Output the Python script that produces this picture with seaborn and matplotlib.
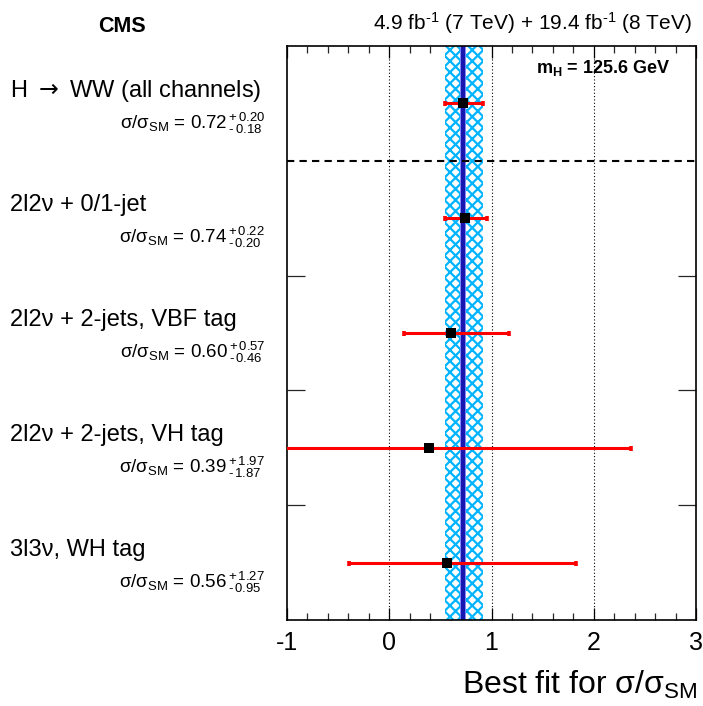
import matplotlib
matplotlib.use("Agg")
import matplotlib.pyplot as plt
import matplotlib.transforms as mtransforms
from matplotlib.ticker import MultipleLocator, FixedLocator
import numpy as np
import seaborn as sns

# ---- data ----
categories = ["H $\\rightarrow$ WW (all channels)", "2l2\u03bd + 0/1-jet",
              "2l2\u03bd + 2-jets, VBF tag", "2l2\u03bd + 2-jets, VH tag",
              "3l3\u03bd, WH tag"]
mu = [0.72, 0.74, 0.60, 0.39, 0.56]
err_up = [0.20, 0.22, 0.57, 1.97, 1.27]
err_dn = [0.18, 0.20, 0.46, 1.87, 0.95]
x_ticks = [-1, 0, 1, 2, 3]

sns.set_theme(style="ticks")
plt.rcParams["font.family"] = ["Liberation Sans", "DejaVu Sans"]
plt.rcParams["mathtext.fontset"] = "custom"
plt.rcParams["mathtext.rm"] = "Liberation Sans"
plt.rcParams["mathtext.it"] = "Liberation Sans:italic"
plt.rcParams["mathtext.bf"] = "Liberation Sans:bold"
plt.rcParams["axes.unicode_minus"] = False
plt.rcParams["hatch.linewidth"] = 1.6

fig = plt.figure(figsize=(7.03, 7.06), dpi=100)
ax = fig.add_axes([0.4083, 0.1218, 0.5818, 0.813])

n = len(categories)
ypos = np.arange(n) + 0.5

# combined band
lo = mu[0] - err_dn[0]
hi = mu[0] + err_up[0]
ax.axvspan(lo, hi, facecolor="white", edgecolor="#00b4ff", hatch="xxx", lw=0, zorder=1)
ax.axvline(mu[0], color="#8a8aff", lw=4.2, zorder=2)
ax.axvline(mu[0], color="#1818b0", lw=3.0, zorder=2.1)

# grid dotted verticals
for xv in [0, 1, 2]:
    ax.axvline(xv, color="black", lw=0.8, ls=(0, (1, 2)), zorder=0.5)

# dashed separator
ax.axhline(1, color="black", lw=1.5, ls=(0, (3.5, 2.5)), zorder=3)

# error bars
ax.errorbar(mu, ypos, xerr=[err_dn, err_up], fmt="none", ecolor="#ff0000",
            elinewidth=2.2, capsize=1.8, capthick=2.6, zorder=4)
sns.scatterplot(x=mu, y=ypos, marker="s", color="black", s=55, linewidth=0,
                ax=ax, zorder=5)

ax.set_xlim(-1, 3)
ax.set_ylim(n, 0)
ax.xaxis.set_major_locator(FixedLocator(x_ticks))
ax.xaxis.set_minor_locator(MultipleLocator(0.2))
ax.set_xticklabels([str(t) for t in x_ticks])
ax.tick_params(axis="x", which="major", direction="in", length=8.5, width=0.9,
               top=True, bottom=True, labelsize=18, pad=8, colors="black")
ax.tick_params(axis="x", which="minor", direction="in", length=5, width=0.9,
               top=True, bottom=True)
ax.yaxis.set_major_locator(FixedLocator([2, 3, 4]))
ax.yaxis.set_minor_locator(FixedLocator([]))
ax.tick_params(axis="y", which="major", direction="in", length=13, width=0.9,
               left=True, right=True, labelleft=False)
for s in ax.spines.values():
    s.set_linewidth(1.2)
    s.set_color("black")
ax.set_xlabel("")
ax.set_ylabel("")

# left labels
tr = mtransforms.blended_transform_factory(fig.transFigure, ax.transData)
for i, (cat, m, eu, ed) in enumerate(zip(categories, mu, err_up, err_dn)):
    yc = ypos[i]
    ax.text(0.0142, yc - 0.06, cat, transform=tr, ha="left", va="baseline",
            fontsize=17, color="black", clip_on=False, math_fontfamily="dejavusans")
    sub = ("\u03c3/\u03c3$_{\\rm SM}$ = $%.2f\\,^{+\\,%.2f}_{\u2010\\,%.2f}$"
           % (m, eu, ed))
    ax.text(0.377, yc + 0.22, sub, transform=tr, ha="right", va="baseline",
            fontsize=13.5, color="black", clip_on=False)

# header texts
fig.text(0.1735, 0.9547, "CMS", ha="center", va="baseline", fontsize=15.5,
         fontweight="bold", color="black")
fig.text(0.984, 0.9575, "4.9 fb$^{\u20101}$ (7 TeV) + 19.4 fb$^{\u20101}$ (8 TeV)",
         ha="right", va="baseline", fontsize=15, color="black")
ax.text(0.936, 0.953, "m$_{\\mathbf{H}}$ = 125.6 GeV", transform=ax.transAxes,
        ha="right", va="baseline", fontsize=13, fontweight="bold", color="black")

fig.text(0.9915, 0.0175, "Best fit for \u03c3/\u03c3$_{\\rm SM}$", ha="right",
         va="baseline", fontsize=23, color="black")

fig.savefig("out.png", dpi=100)
